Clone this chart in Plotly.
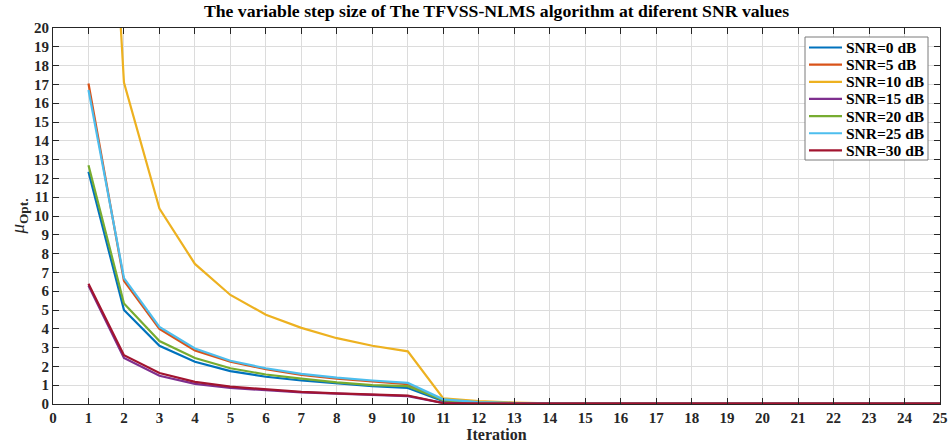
import plotly.graph_objects as go

iterations = list(range(1, 26))
series_names = ["SNR=0 dB", "SNR=5 dB", "SNR=10 dB", "SNR=15 dB", "SNR=20 dB", "SNR=25 dB", "SNR=30 dB"]
tail = [0.03] * 12  # iterations 14..25

snr0 = [12.35, 5.0, 3.1, 2.25, 1.75, 1.45, 1.25, 1.1, 0.95, 0.85, 0.15, 0.06, 0.04] + tail
snr5 = [17.05, 6.55, 4.0, 2.85, 2.25, 1.85, 1.55, 1.35, 1.2, 1.05, 0.2, 0.08, 0.05] + tail
snr10 = [50.0, 17.1, 10.4, 7.45, 5.8, 4.75, 4.05, 3.5, 3.1, 2.8, 0.3, 0.15, 0.08] + tail
snr15 = [6.3, 2.45, 1.5, 1.07, 0.85, 0.72, 0.62, 0.55, 0.48, 0.42, 0.05, 0.03, 0.03] + tail
snr20 = [12.7, 5.35, 3.35, 2.45, 1.9, 1.57, 1.35, 1.15, 1.0, 0.95, 0.2, 0.08, 0.05] + tail
snr25 = [16.7, 6.7, 4.1, 2.95, 2.3, 1.9, 1.6, 1.4, 1.25, 1.12, 0.25, 0.1, 0.05] + tail
snr30 = [6.4, 2.6, 1.65, 1.18, 0.92, 0.77, 0.65, 0.57, 0.5, 0.45, 0.05, 0.03, 0.03] + tail

x_ticks = list(range(0, 26))
y_ticks = list(range(0, 21))

all_series = [snr0, snr5, snr10, snr15, snr20, snr25, snr30]
colors = ["#0072BD", "#D95319", "#EDB120", "#7E2F8E", "#77AC30", "#4DBEEE", "#A2142F"]

FONT = "Liberation Serif"
W, H = 948, 447
ML, MR, MT, MB = 53, 8, 28, 43
PW, PH = W - ML - MR, H - MT - MB


def px_x(p):
    return (p - ML) / PW


def px_y(p):
    return (H - MB - p) / PH


fig = go.Figure()
for name, ys, c in zip(series_names, all_series, colors):
    fig.add_trace(go.Scatter(x=iterations, y=ys, mode="lines", name=name,
                             line=dict(color=c, width=2.2), showlegend=False))

# legend box drawn in paper space (layout only)
LX0, LX1, LY0, LY1 = 805, 928, 37, 160
ITEM0, STEP = 47.5, 17.15
shapes = [dict(type="rect", xref="paper", yref="paper",
               x0=px_x(LX0), x1=px_x(LX1), y0=px_y(LY1), y1=px_y(LY0),
               line=dict(color="#7a7a7a", width=1), fillcolor="white", layer="above")]
annotations = []
for i, (name, c) in enumerate(zip(series_names, colors)):
    yy = px_y(ITEM0 + STEP * i)
    shapes.append(dict(type="line", xref="paper", yref="paper",
                       x0=px_x(809), x1=px_x(842), y0=yy, y1=yy,
                       line=dict(color=c, width=2.2), layer="above"))
    annotations.append(dict(xref="paper", yref="paper", x=px_x(844), y=yy,
                            xanchor="left", yanchor="middle", showarrow=False,
                            text="<b>" + name + "</b>",
                            font=dict(family=FONT, size=15.5, color="black")))

axis_common = dict(
    showline=True, linecolor="#262626", linewidth=1, mirror="ticks",
    ticks="inside", ticklen=6, tickcolor="#262626",
    showgrid=True, gridcolor="#dcdcdc", gridwidth=1, zeroline=False,
    tickfont=dict(family=FONT, size=15, color="#262626"),
    ticklabeloverflow="allow", automargin=False,
)

fig.update_layout(
    width=W, height=H,
    margin=dict(l=ML, r=MR, t=MT, b=MB, autoexpand=False),
    paper_bgcolor="white", plot_bgcolor="white",
    title=dict(text="<b>The variable step size of The TFVSS-NLMS algorithm at diferent SNR values</b>",
               x=0.5, xanchor="center", xref="paper", y=0.975, yanchor="middle",
               font=dict(family=FONT, size=17.7, color="black")),
    xaxis=dict(range=[0, 25], tickmode="array", tickvals=x_ticks,
               ticktext=["<b>%d</b>" % v for v in x_ticks],
               title=dict(text="<b>Iteration</b>", font=dict(family=FONT, size=16, color="#262626"), standoff=2),
               **axis_common),
    yaxis=dict(range=[0, 20], tickmode="array", tickvals=y_ticks,
               ticktext=["<b>%d</b>" % v for v in y_ticks],
               title=dict(text="<i>μ</i><sub><b>Opt.</b></sub>", font=dict(family=FONT, size=19, color="#262626"), standoff=4),
               **axis_common),
    shapes=shapes,
    annotations=annotations,
    showlegend=False,
)

fig.write_html("out.html")
